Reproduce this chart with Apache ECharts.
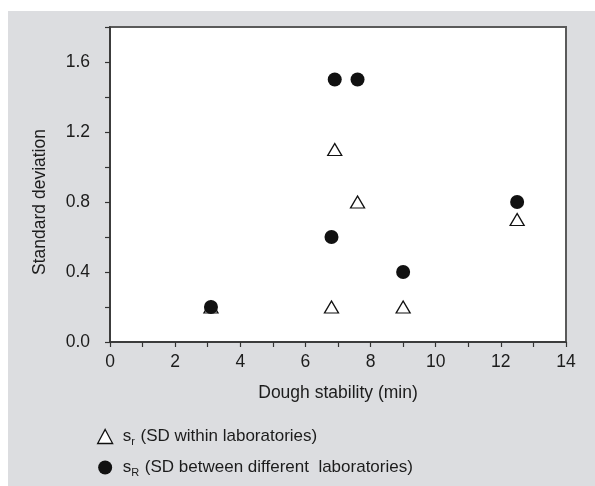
<!DOCTYPE html>
<html>
<head>
<meta charset="utf-8">
<script src="https://cdn.jsdelivr.net/npm/echarts@6/dist/echarts.min.js"></script>
<style>
html,body{margin:0;padding:0;background:#fff;}
#c{width:595px;height:486px;}
</style>
</head>
<body>
<div id="c"></div>
<script>
// Data
var doughStability = [3.1, 6.8, 6.9, 7.6, 9.0, 12.5];
var sdWithin = [0.2, 0.2, 1.1, 0.8, 0.2, 0.7];     // s_r
var sdBetween = [0.2, 0.6, 1.5, 1.5, 0.4, 0.8];    // s_R
var xTickLabels = ['0', '2', '4', '6', '8', '10', '12', '14'];
var yTickLabels = ['0.0', '0.4', '0.8', '1.2', '1.6'];
var seriesNames = ['sr', 'sR'];

function pairs(xs, ys) { return xs.map(function (x, i) { return [x, ys[i]]; }); }

var FONT = "'Liberation Sans', Arial, sans-serif";
var FS = 17.5;
var LFS = 17;
var TXT = '#1c1c1c';
var chart = echarts.init(document.getElementById('c'));

var option = {
  backgroundColor: '#ffffff',
  animation: false,
  graphic: [
    { type: 'rect', z: -10, silent: true,
      shape: { x: 8, y: 11, width: 587, height: 475 },
      style: { fill: '#dcdde0' } },
    { type: 'text', x: 40, y: 202, rotation: Math.PI / 2, silent: true,
      style: { text: 'Standard deviation', fontFamily: FONT, fontSize: FS, fill: TXT,
               textAlign: 'center', textVerticalAlign: 'middle' } }
  ],
  grid: {
    left: 110, top: 27, right: 29, bottom: 144,
    show: true, backgroundColor: '#ffffff', borderColor: '#5a5a5a', borderWidth: 2
  },
  xAxis: {
    type: 'value', min: 0, max: 14, interval: 1,
    name: 'Dough stability (min)', nameLocation: 'middle', nameGap: 42,
    nameTextStyle: { fontFamily: FONT, fontSize: FS, color: TXT },
    axisLine: { show: true, lineStyle: { color: '#333', width: 1.5 } },
    axisTick: { show: true, inside: false, length: 5, lineStyle: { color: '#333', width: 1.2 } },
    splitLine: { show: false },
    axisLabel: {
      margin: 11, fontFamily: FONT, fontSize: FS, color: TXT,
      formatter: function (v) {
        var s = String(Math.round(v));
        return xTickLabels.indexOf(s) >= 0 ? s : '';
      }
    }
  },
  yAxis: {
    type: 'value', min: 0, max: 1.8, interval: 0.2,
    axisLine: { show: true, lineStyle: { color: '#333', width: 1.5 } },
    axisTick: { show: true, inside: false, length: 5, lineStyle: { color: '#333', width: 1.2 } },
    splitLine: { show: false },
    axisLabel: {
      margin: 20, fontFamily: FONT, fontSize: FS, color: TXT,
      formatter: function (v) {
        var s = (Math.round(v * 10) / 10).toFixed(1);
        return yTickLabels.indexOf(s) >= 0 ? s : '';
      }
    }
  },
  legend: {
    orient: 'vertical', left: 97, top: 426, padding: 0,
    itemWidth: 15, itemHeight: 14, itemGap: 10,
    selectedMode: false,
    data: [
      { name: seriesNames[0], itemStyle: { color: '#ffffff', borderColor: '#111', borderWidth: 1.3 } },
      { name: seriesNames[1], itemStyle: { color: '#111' } }
    ],
    textStyle: {
      fontFamily: FONT, fontSize: LFS, color: TXT, padding: [0, 0, 0, 5],
      rich: {
        a: { fontFamily: FONT, fontSize: LFS, color: TXT, lineHeight: 20 },
        sub: { fontFamily: FONT, fontSize: 11, color: TXT, lineHeight: 20, padding: [10, 1, 0, 0] }
      }
    },
    formatter: function (name) {
      if (name === 'sr') return '{a|s}{sub|r}{a| (SD within laboratories)}';
      return '{a|s}{sub|R}{a| (SD between different  laboratories)}';
    }
  },
  series: [
    {
      name: seriesNames[0], type: 'scatter', z: 2,
      symbol: 'triangle', symbolSize: [14, 12],
      itemStyle: { color: '#ffffff', borderColor: '#111', borderWidth: 1.3, opacity: 1 },
      data: pairs(doughStability, sdWithin)
    },
    {
      name: seriesNames[1], type: 'scatter', z: 3,
      symbol: 'circle', symbolSize: 14,
      itemStyle: { color: '#111', opacity: 1 },
      data: pairs(doughStability, sdBetween)
    }
  ]
};
chart.setOption(option);
</script>
</body>
</html>
